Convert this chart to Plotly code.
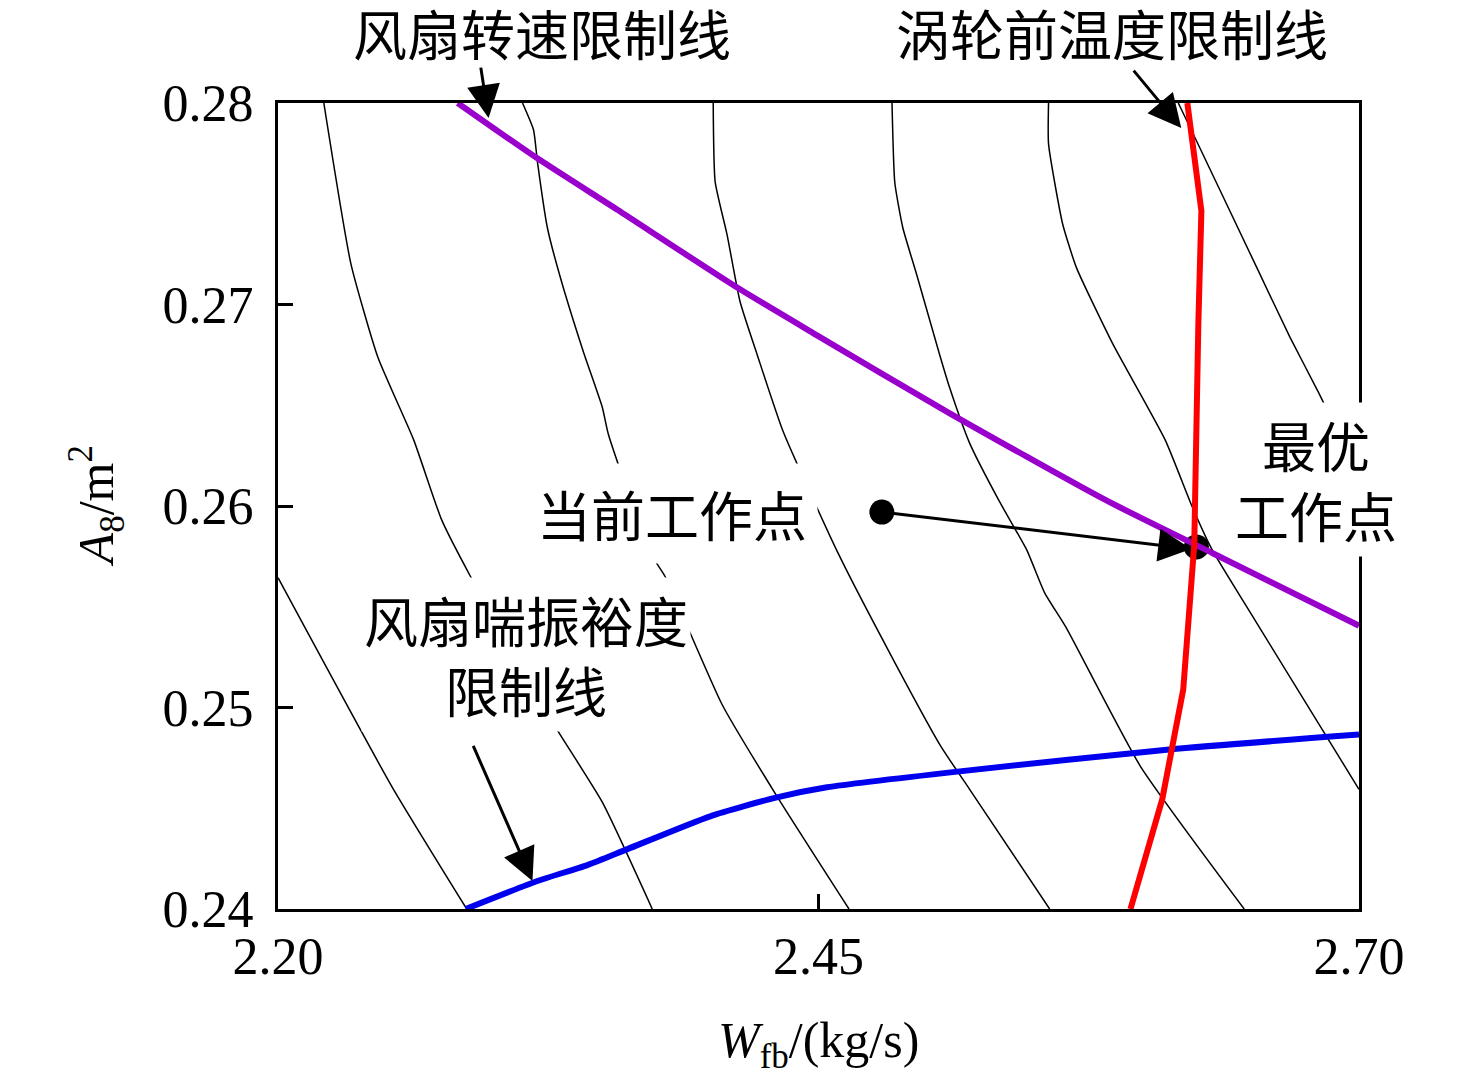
import plotly.graph_objects as go

# ---- axis ticks ----
x_ticks = [2.20, 2.45, 2.70]
x_tick_labels = ["2.20", "2.45", "2.70"]
y_ticks = [0.24, 0.25, 0.26, 0.27, 0.28]
y_tick_labels = ["0.24", "0.25", "0.26", "0.27", "0.28"]

# ---- thin black background curves ----
c0_x = [2.2000, 2.2526, 2.2873]
c0_y = [0.25644, 0.24609, 0.24000]

c1_x = [2.2212, 2.2337, 2.2462, 2.2628, 2.2757, 2.2891, 2.3270, 2.3500, 2.3731]
c1_y = [0.28000, 0.27203, 0.26738, 0.26327, 0.25931, 0.25649, 0.24926, 0.24530, 0.24000]

c2_x = [2.3131, 2.3182, 2.3200, 2.3246, 2.3306, 2.3412, 2.3500, 2.3528, 2.3722, 2.3791, 2.4054, 2.4308, 2.4641]
c2_y = [0.28000, 0.27866, 0.27708, 0.27381, 0.27134, 0.26767, 0.26490, 0.26356, 0.25767, 0.25649, 0.25015, 0.24559, 0.24000]

c3_x = [2.4013, 2.4022, 2.4077, 2.4137, 2.4216, 2.4336, 2.4590, 2.4853, 2.5066, 2.5199, 2.5569]
c3_y = [0.28000, 0.27609, 0.27347, 0.27015, 0.26752, 0.26371, 0.25767, 0.25223, 0.24807, 0.24594, 0.24000]

c4_x = [2.4840, 2.4853, 2.4890, 2.4954, 2.5060, 2.5106, 2.5199, 2.5333, 2.5463, 2.5546, 2.5643, 2.5989, 2.6469]
c4_y = [0.28000, 0.27604, 0.27381, 0.27149, 0.26752, 0.26589, 0.26312, 0.26030, 0.25782, 0.25569, 0.25401, 0.24708, 0.24000]

c5_x = [2.5564, 2.5564, 2.5629, 2.5693, 2.5860, 2.6104, 2.6229, 2.6321, 2.6469, 2.7000]
c5_y = [0.28000, 0.27797, 0.27401, 0.27183, 0.26807, 0.26327, 0.25995, 0.25782, 0.25520, 0.24594]

c6_x = [2.6164, 2.6220, 2.6534, 2.6681, 2.6815, 2.7000]
c6_y = [0.28000, 0.27876, 0.27168, 0.26837, 0.26559, 0.26153]

contours = [(c0_x, c0_y), (c1_x, c1_y), (c2_x, c2_y), (c3_x, c3_y),
            (c4_x, c4_y), (c5_x, c5_y), (c6_x, c6_y)]

# ---- limit lines ----
fan_speed_x = [2.2831, 2.3182, 2.3570, 2.4124, 2.4493, 2.5107, 2.5827, 2.6321, 2.7000]
fan_speed_y = [0.28000, 0.27738, 0.27470, 0.27084, 0.26847, 0.26460, 0.26030, 0.25767, 0.25406]

turbine_temp_x = [2.6206, 2.6271, 2.6257, 2.6247, 2.6238, 2.6187, 2.6090, 2.5943]
turbine_temp_y = [0.28000, 0.27465, 0.26906, 0.26426, 0.25807, 0.25089, 0.24545, 0.24000]

surge_x = [2.2868, 2.3200, 2.3431, 2.3616, 2.3999, 2.4308, 2.4539, 2.5153, 2.6123, 2.7000]
surge_y = [0.24000, 0.24139, 0.24218, 0.24297, 0.24460, 0.24554, 0.24604, 0.24683, 0.24792, 0.24866]

# ---- operating points ----
current_pt = (2.4793, 0.25970)
optimal_pt = (2.6248, 0.25797)

CJK = "Noto Sans CJK SC"
SERIF = "Liberation Serif"

fig = go.Figure()

for cx, cy in contours:
    fig.add_trace(go.Scatter(x=cx, y=cy, mode="lines",
                             line=dict(color="black", width=1.5, shape="spline", smoothing=0.5),
                             hoverinfo="skip"))

fig.add_trace(go.Scatter(x=[current_pt[0], optimal_pt[0]],
                         y=[current_pt[1], optimal_pt[1]],
                         mode="markers",
                         marker=dict(color="black", size=25)))

fig.add_trace(go.Scatter(x=surge_x, y=surge_y, mode="lines",
                         line=dict(color="#0000EE", width=6, shape="spline", smoothing=0.6)))
fig.add_trace(go.Scatter(x=fan_speed_x, y=fan_speed_y, mode="lines",
                         line=dict(color="#9900CC", width=6, shape="spline", smoothing=0.6)))
fig.add_trace(go.Scatter(x=turbine_temp_x, y=turbine_temp_y, mode="lines",
                         line=dict(color="#FF0000", width=6)))

ann = []
txt_font = dict(family=CJK, size=54, color="black")

# labels above the plot
ann.append(dict(x=0.2438, y=1.0880, xref="paper", yref="paper", text="风扇转速限制线",
                xanchor="center", yanchor="middle", showarrow=False, font=txt_font))
ann.append(dict(x=0.7719, y=1.0880, xref="paper", yref="paper", text="涡轮前温度限制线",
                xanchor="center", yanchor="middle", showarrow=False, font=txt_font))
# labels inside (with white background)
ann.append(dict(x=2.3824, y=0.25965, xref="x", yref="y", text="当前工作点",
                showarrow=False, font=txt_font, bgcolor="white", borderpad=10))
ann.append(dict(x=2.6801, y=0.26134, xref="x", yref="y", text="最优<br>工作点",
                showarrow=False, font=txt_font, bgcolor="white", borderpad=2))
ann.append(dict(x=2.3145, y=0.25262, xref="x", yref="y", text="风扇喘振裕度<br>限制线",
                showarrow=False, font=txt_font, bgcolor="white", borderpad=2))

# arrows
arrows = [
    ((2.2937, 0.28183), (2.2974, 0.27926)),
    ((2.5952, 0.28168), (2.6178, 0.27876)),
    ((current_pt[0], current_pt[1]), (2.6224, 0.25787)),
    ((2.2900, 0.24817), (2.3177, 0.24139)),
]
for (tx, ty), (hx, hy) in arrows:
    ann.append(dict(x=hx, y=hy, ax=tx, ay=ty, xref="x", yref="y", axref="x", ayref="y",
                    text="", showarrow=True, arrowhead=2, arrowsize=2.2, arrowwidth=3,
                    arrowcolor="black"))

# axis titles
ann.append(dict(x=-0.168, y=0.5, xref="paper", yref="paper", textangle=-90,
                xanchor="center", yanchor="middle",
                text="<i>A</i><sub>8</sub>/m<sup>2</sup>", showarrow=False,
                font=dict(family=SERIF, size=50, color="black")))
ann.append(dict(x=0.5, y=-0.167, xref="paper", yref="paper",
                xanchor="center", yanchor="middle",
                text="<i>W</i><sub>fb</sub>/(kg/s)", showarrow=False,
                font=dict(family=SERIF, size=50, color="black")))

fig.update_layout(
    width=1476, height=1089,
    margin=dict(l=270, r=125, t=95, b=188),
    plot_bgcolor="white", paper_bgcolor="white",
    showlegend=False,
    annotations=ann,
    xaxis=dict(range=[2.2, 2.7], tickvals=x_ticks, ticktext=x_tick_labels,
               ticks="inside", ticklen=15, tickwidth=3, tickcolor="black",
               showline=True, linewidth=3, linecolor="black", mirror=True,
               showgrid=False, zeroline=False, ticklabelstandoff=0,
               tickfont=dict(family=SERIF, size=52, color="black")),
    yaxis=dict(range=[0.24, 0.28], tickvals=y_ticks, ticktext=y_tick_labels,
               ticks="inside", ticklen=15, tickwidth=3, tickcolor="black",
               showline=True, linewidth=3, linecolor="black", mirror=True,
               showgrid=False, zeroline=False, ticklabelstandoff=11,
               tickfont=dict(family=SERIF, size=52, color="black")),
)

fig.write_html("out.html")
